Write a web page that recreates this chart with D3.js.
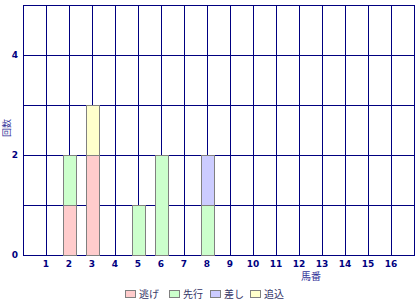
<!DOCTYPE html>
<html>
<head>
<meta charset="utf-8">
<script src="https://cdn.jsdelivr.net/npm/d3@7"></script>
<style>
  body { margin: 0; background: #fff; }
  svg { display: block; }
  text { font-family: "DejaVu Sans", sans-serif; }
  .jp { font-family: "Noto Sans CJK JP", sans-serif; }
</style>
</head>
<body>
<div id="chart"></div>
<script>
// data
var horses = [1, 2, 3, 4, 5, 6, 7, 8, 9, 10, 11, 12, 13, 14, 15, 16];
var seriesNames = ["逃げ", "先行", "差し", "追込"];
var nige   = [0, 1, 2, 0, 0, 0, 0, 0, 0, 0, 0, 0, 0, 0, 0, 0];
var senko  = [0, 1, 0, 0, 1, 2, 0, 1, 0, 0, 0, 0, 0, 0, 0, 0];
var sashi  = [0, 0, 0, 0, 0, 0, 0, 1, 0, 0, 0, 0, 0, 0, 0, 0];
var oikomi = [0, 0, 1, 0, 0, 0, 0, 0, 0, 0, 0, 0, 0, 0, 0, 0];
var yTicks = [0, 2, 4];
var colors = ["#ffcccc", "#ccffcc", "#ccccff", "#ffffcc"];

var width = 420, height = 300;
var margin = {top: 4.5, right: 6, bottom: 45, left: 23};

var svg = d3.select("#chart").append("svg")
    .attr("width", width)
    .attr("height", height);

var x = d3.scaleLinear().domain([0, 17]).range([margin.left, 414]);
var y = d3.scaleLinear().domain([0, 5]).range([255, margin.top]);

var rows = horses.map(function(h, i) {
  return {horse: h, "逃げ": nige[i], "先行": senko[i], "差し": sashi[i], "追込": oikomi[i]};
});
var stacked = d3.stack().keys(seriesNames)(rows);

// grid
var grid = svg.append("g").attr("shape-rendering", "crispEdges");
grid.selectAll(".vg")
    .data(d3.range(0, 18))
  .enter().append("line")
    .attr("x1", function(d) { return Math.round(x(d)) + 0.5; })
    .attr("x2", function(d) { return Math.round(x(d)) + 0.5; })
    .attr("y1", y(5)).attr("y2", y(0))
    .attr("stroke", "#000080");
grid.selectAll(".hg")
    .data(d3.range(0, 6))
  .enter().append("line")
    .attr("y1", function(d) { return Math.round(y(d)) + 0.5; })
    .attr("y2", function(d) { return Math.round(y(d)) + 0.5; })
    .attr("x1", x(0)).attr("x2", x(17) + 1)
    .attr("stroke", "#000080");

// bars
var barW = 13;
svg.append("g").selectAll("g")
    .data(stacked)
  .enter().append("g")
    .attr("fill", function(d, i) { return colors[i]; })
  .selectAll("rect")
    .data(function(d) { return d.filter(function(p) { return p[1] > p[0]; }); })
  .enter().append("rect")
    .attr("x", function(d) { return Math.round(x(d.data.horse) - barW / 2) + 0.5; })
    .attr("width", barW)
    .attr("y", function(d) { return Math.round(y(d[1])) + 0.5; })
    .attr("height", function(d) { return Math.round(y(d[0])) - Math.round(y(d[1])); })
    .attr("stroke", "#808080")
    .attr("shape-rendering", "crispEdges");

// x tick labels
svg.append("g").selectAll("text")
    .data(horses)
  .enter().append("text")
    .attr("x", function(d) { return x(d); })
    .attr("y", 267)
    .attr("text-anchor", "middle")
    .attr("font-size", "9px")
    .attr("font-weight", "bold")
    .attr("fill", "#000080")
    .text(function(d) { return d; });

// y tick labels
svg.append("g").selectAll("text")
    .data(yTicks)
  .enter().append("text")
    .attr("x", 18)
    .attr("y", function(d) { return y(d) + 3; })
    .attr("text-anchor", "end")
    .attr("font-size", "9px")
    .attr("font-weight", "bold")
    .attr("fill", "#000080")
    .text(function(d) { return d; });

// axis titles
svg.append("text")
    .attr("class", "jp")
    .attr("x", 311).attr("y", 280)
    .attr("text-anchor", "middle")
    .attr("font-size", "10px")
    .attr("fill", "#333399")
    .text("馬番");

svg.append("text")
    .attr("class", "jp")
    .attr("transform", "translate(10,128) rotate(-90)")
    .attr("text-anchor", "middle")
    .attr("font-size", "9px")
    .attr("fill", "#333399")
    .text("回数");

// legend
var legendX = [125, 169, 210, 250];
var legend = svg.append("g").selectAll("g")
    .data(seriesNames)
  .enter().append("g")
    .attr("transform", function(d, i) { return "translate(" + legendX[i] + ",290)"; });
legend.append("rect")
    .attr("x", 0.5).attr("y", 0.5)
    .attr("width", 10).attr("height", 7)
    .attr("fill", function(d, i) { return colors[i]; })
    .attr("stroke", "#808080")
    .attr("shape-rendering", "crispEdges");
legend.append("text")
    .attr("class", "jp")
    .attr("x", 14).attr("y", 8)
    .attr("font-size", "10px")
    .attr("fill", "#333366")
    .text(function(d) { return d; });
</script>
</body>
</html>
